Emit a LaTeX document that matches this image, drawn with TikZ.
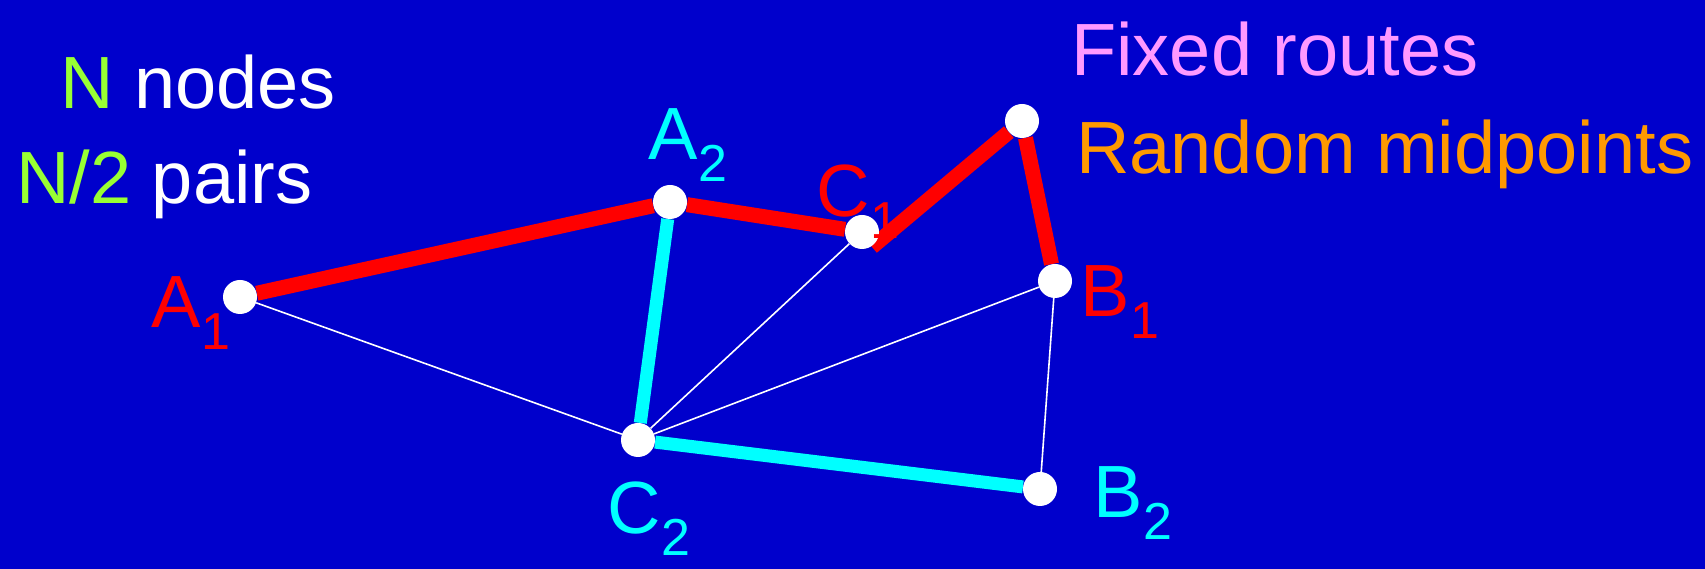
\documentclass[tikz,border=0pt]{standalone}
\usepackage{fontspec}
\setmainfont{Liberation Sans}
\definecolor{bgblue}{RGB}{0,0,204}
\definecolor{routered}{RGB}{255,0,0}
\definecolor{routecyan}{RGB}{0,255,255}
\definecolor{ngreen}{RGB}{153,255,51}
\definecolor{fixpink}{RGB}{255,153,255}
\definecolor{midorange}{RGB}{255,153,0}
\newcommand{\sublab}[2]{#1\raisebox{-0.3em}{\fontsize{52}{52}\selectfont #2}}
\pgfdeclarelayer{bg}
\pgfdeclarelayer{edges}
\pgfsetlayers{bg,edges,main}

\begin{document}
\begin{tikzpicture}[x=1pt,y=1pt,
  dot/.style={circle,fill=white,inner sep=0pt,minimum size=34pt},
  redroute/.style={draw=routered,line width=15pt},
  cyanroute/.style={draw=routecyan,line width=13pt},
  link/.style={draw=white,line width=1.6pt},
  lab/.style={font=\fontsize{74}{80}\selectfont,inner sep=0pt},
  txt/.style={font=\fontsize{74}{80}\selectfont,inner sep=0pt,anchor=base west}]
  \begin{pgfonlayer}{bg}
    \fill[bgblue] (0,0) rectangle (1705,569);
  \end{pgfonlayer}
  \useasboundingbox (0,0) rectangle (1705,569);

  % nodes of the network
  \node[dot] (a1) at (240,272) {};
  \node[dot] (a2) at (670,367) {};
  \node[dot] (c1) at (862,337) {};
  \node[dot] (m1) at (1022,448) {};
  \node[dot] (b1) at (1055,288) {};
  \node[dot] (c2) at (638,129) {};
  \node[dot] (b2) at (1040,80) {};
  \coordinate (c1end) at (872,322);

  % labels
  \node[lab,text=routered] (la1) at (191,256) {\sublab{A}{1}};
  \node[lab,text=routecyan] (la2) at (688,424) {\sublab{A}{2}};
  \node[lab,text=routered] (lc1) at (858,367) {\sublab{C}{1}};
  \node[lab,text=routered] (lb1) at (1120,267) {\sublab{B}{1}};
  \node[lab,text=routecyan] (lb2) at (1133,66) {\sublab{B}{2}};
  \node[lab,text=routecyan] (lc2) at (649,50) {\sublab{C}{2}};

  % texts
  \node[txt,text=white] (nn) at (60,460) {\textcolor{ngreen}{N} nodes};
  \node[txt,text=white] (np) at (16,365) {\textcolor{ngreen}{N/2} pairs};
  \node[txt,text=fixpink] (fr) at (1071,493) {Fixed routes};
  \node[txt,text=midorange] (rm) at (1076,395) {Random midpoints};

  \begin{pgfonlayer}{edges}
    \draw[link] (c2) -- (a1);
    \draw[link] (c2) -- (c1);
    \draw[link] (c2) -- (b1);
    \draw[link] (b1) -- (b2);
    \draw[redroute] (a1) -- (a2);
    \draw[redroute] (a2) -- (c1);
    \draw[redroute] (c1end) -- (m1);
    \draw[redroute] (m1) -- (b1);
    \draw[cyanroute] (a2) -- (c2);
    \draw[cyanroute] (c2) -- (b2);
  \end{pgfonlayer}
\end{tikzpicture}
\end{document}
